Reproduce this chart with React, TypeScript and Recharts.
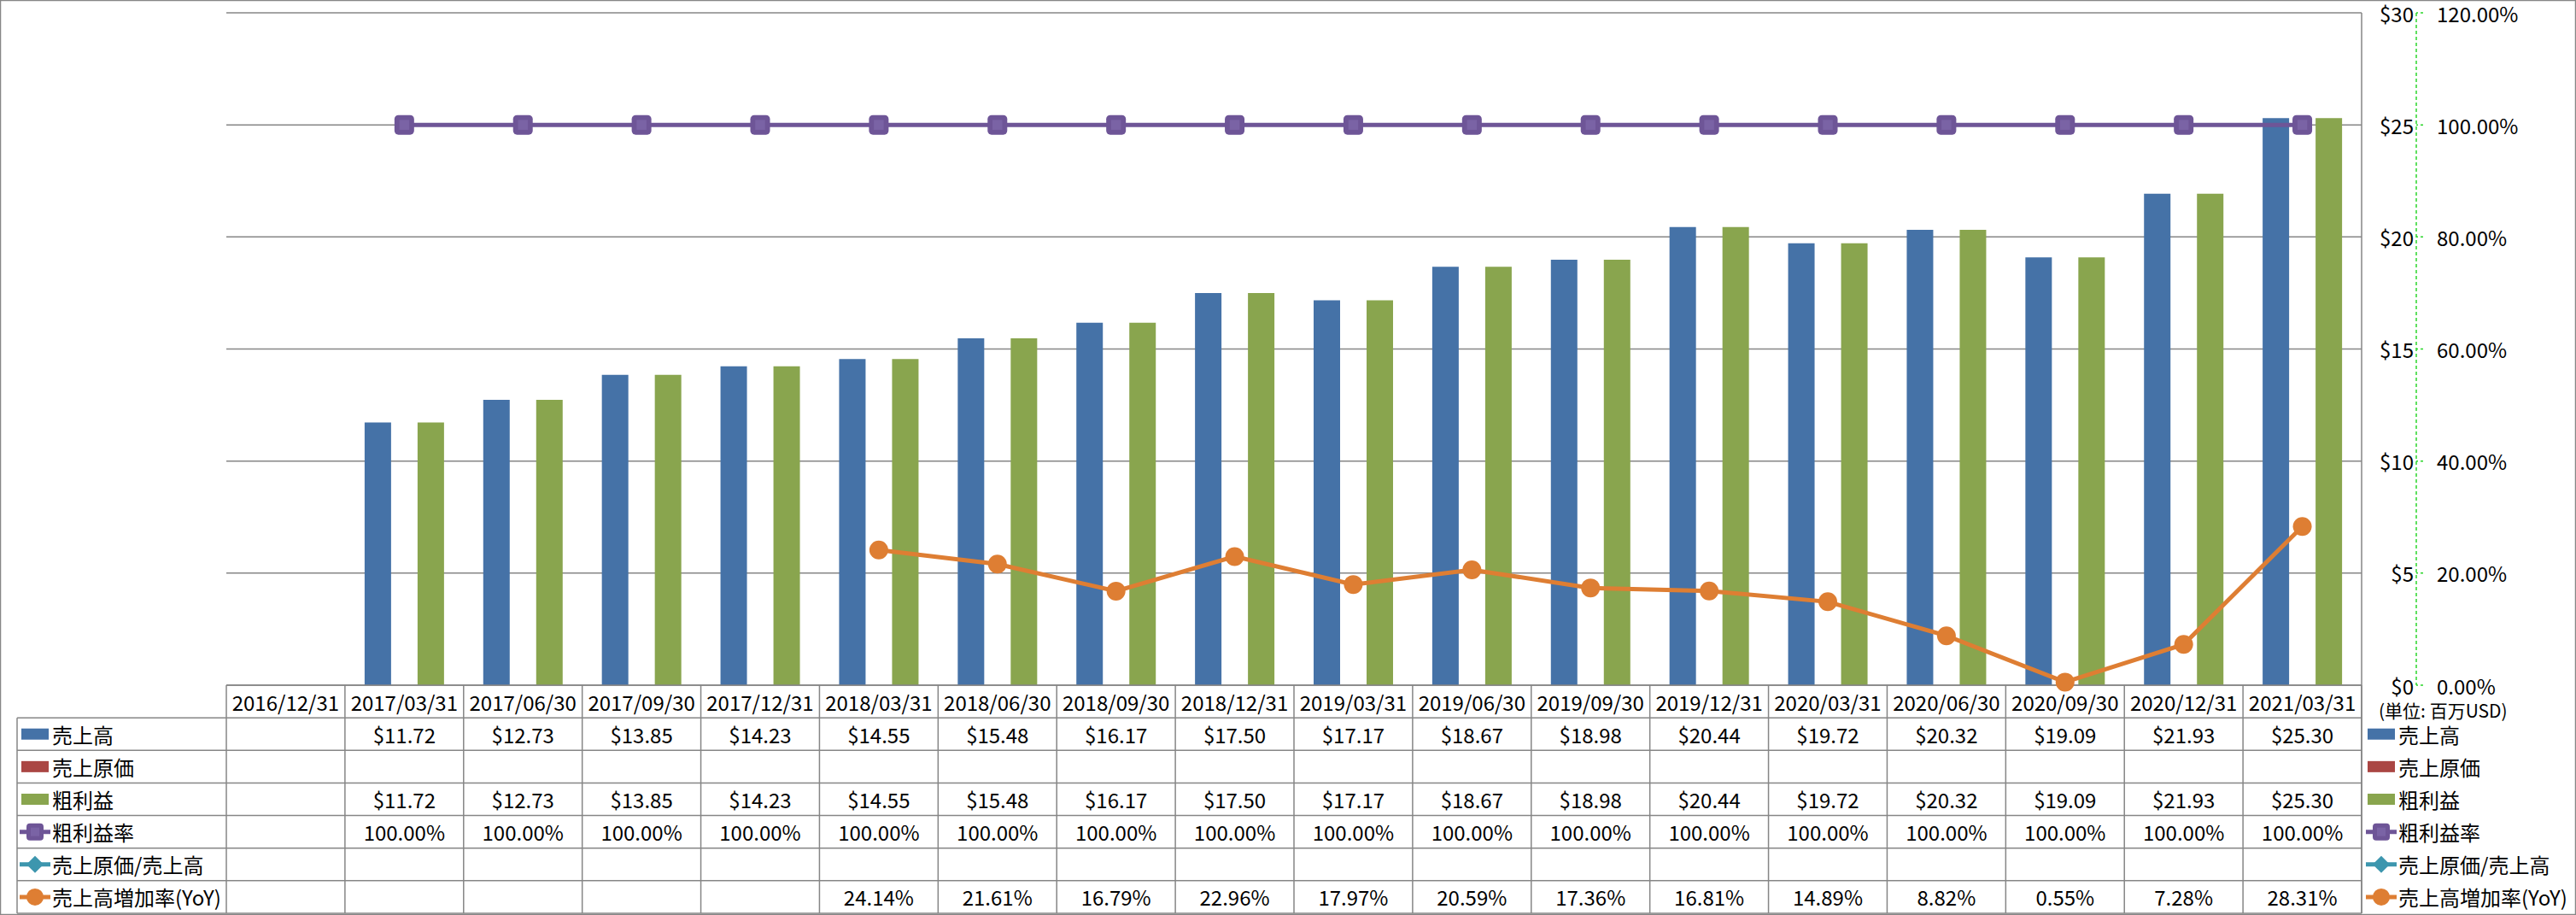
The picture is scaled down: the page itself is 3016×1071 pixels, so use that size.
import React from "react"
import { ComposedChart, Bar, Line, XAxis, YAxis, CartesianGrid } from "recharts"

// quarter end dates (x categories)
const dates = [
  "2016/12/31", "2017/03/31", "2017/06/30", "2017/09/30", "2017/12/31", "2018/03/31",
  "2018/06/30", "2018/09/30", "2018/12/31", "2019/03/31", "2019/06/30", "2019/09/30",
  "2019/12/31", "2020/03/31", "2020/06/30", "2020/09/30", "2020/12/31", "2021/03/31",
]

// 売上高 (百万USD)
const revenue = [null, 11.72, 12.73, 13.85, 14.23, 14.55, 15.48, 16.17, 17.5, 17.17, 18.67, 18.98, 20.44, 19.72, 20.32, 19.09, 21.93, 25.3]
// 売上原価 (no values)
const cost = [null, null, null, null, null, null, null, null, null, null, null, null, null, null, null, null, null, null]
// 粗利益
const grossProfit = [null, 11.72, 12.73, 13.85, 14.23, 14.55, 15.48, 16.17, 17.5, 17.17, 18.67, 18.98, 20.44, 19.72, 20.32, 19.09, 21.93, 25.3]
// 粗利益率 (%)
const grossMargin = [null, 100, 100, 100, 100, 100, 100, 100, 100, 100, 100, 100, 100, 100, 100, 100, 100, 100]
// 売上原価/売上高 (no values)
const costRatio = [null, null, null, null, null, null, null, null, null, null, null, null, null, null, null, null, null, null]
// 売上高増加率 YoY (%)
const yoy = [null, null, null, null, null, 24.14, 21.61, 16.79, 22.96, 17.97, 20.59, 17.36, 16.81, 14.89, 8.82, 0.55, 7.28, 28.31]

const usdTicks = [0, 5, 10, 15, 20, 25, 30]
const pctTicks = [0, 20, 40, 60, 80, 100, 120]
const unitLabel = "(単位: 百万USD)"

const BLUE = "#4572A7"
const RED = "#AA4643"
const GREEN = "#89A54E"
const PURPLE = "#6E5597"
const CYAN = "#3D96AE"
const ORANGE = "#DE7E33"
const GRID = "#868686"
const AXIS_GREEN = "#2BD62B"
const FONT = "'Noto Sans CJK JP', 'Noto Sans', sans-serif"

const W = 3016
const H = 1071
const PLOT_L = 265
const PLOT_R = 2765
const PLOT_T = 15
const PLOT_B = 802
const TABLE_L = 20
const TABLE_B = 1069
const USD_AXIS_W = 64
const ROW_H = (TABLE_B - PLOT_B) / 7
const COL_W = (PLOT_R - PLOT_L) / dates.length

const data = dates.map((d, i) => ({
  date: d,
  revenue: revenue[i],
  cost: cost[i],
  grossProfit: grossProfit[i],
  grossMargin: grossMargin[i],
  costRatio: costRatio[i],
  yoy: yoy[i],
}))

const money = (v: number) => "$" + v.toFixed(2)
const pct = (v: number) => v.toFixed(2) + "%"

const rows = [
  { name: "売上高", kind: "bar", color: BLUE, values: revenue, fmt: money },
  { name: "売上原価", kind: "bar", color: RED, values: cost, fmt: money },
  { name: "粗利益", kind: "bar", color: GREEN, values: grossProfit, fmt: money },
  { name: "粗利益率", kind: "square", color: PURPLE, values: grossMargin, fmt: pct },
  { name: "売上原価/売上高", kind: "diamond", color: CYAN, values: costRatio, fmt: pct },
  { name: "売上高増加率(YoY)", kind: "circle", color: ORANGE, values: yoy, fmt: pct },
]

function Marker({ kind, color, cx, cy, size }: any) {
  const h = size / 2
  if (kind === "square") {
    return (
      <g>
        <rect x={cx - h} y={cy - h} width={size} height={size} rx={size * 0.2} fill={color} />
        <rect x={cx - h * 0.5} y={cy - h * 0.5} width={h} height={h} fill="#7A63A5" />
      </g>
    )
  }
  if (kind === "diamond") {
    return <path d={`M${cx},${cy - h} L${cx + h},${cy} L${cx},${cy + h} L${cx - h},${cy} Z`} fill={color} />
  }
  return <circle cx={cx} cy={cy} r={h} fill={color} />
}

function LegendKey({ row, x, cy }: any) {
  if (row.kind === "bar") {
    return <rect x={x} y={cy - 6.5} width={32} height={13} fill={row.color} />
  }
  return (
    <g>
      <line x1={x - 2} x2={x + 34} y1={cy} y2={cy} stroke={row.color} strokeWidth={5} />
      <Marker kind={row.kind} color={row.color} cx={x + 16} cy={cy} size={20} />
    </g>
  )
}

function TableColumn(props: any) {
  const { x, payload } = props
  const i = dates.indexOf(payload.value)
  const half = COL_W / 2
  return (
    <g>
      <text x={x} y={PLOT_B + ROW_H / 2} textAnchor="middle" dominantBaseline="central" fontSize={24} fill="#000">
        {payload.value}
      </text>
      {rows.map((row, r) => {
        const v = row.values[i]
        if (v == null) return null
        return (
          <text key={r} x={x} y={PLOT_B + ROW_H * (r + 1.5)} textAnchor="middle" dominantBaseline="central" fontSize={24} fill="#000">
            {row.fmt(v)}
          </text>
        )
      })}
      <line x1={x + half} x2={x + half} y1={PLOT_B} y2={TABLE_B} stroke={GRID} strokeWidth={1.5} />
      {i === 0 && <line x1={x - half} x2={x - half} y1={PLOT_B} y2={TABLE_B} stroke={GRID} strokeWidth={1.5} />}
    </g>
  )
}

function UsdTick({ x, y, payload }: any) {
  return (
    <text x={x + USD_AXIS_W - 3} y={y} textAnchor="end" dominantBaseline="central" fontSize={24} fill="#000">
      {"$" + payload.value}
    </text>
  )
}

function PctTick({ x, y, payload }: any) {
  return (
    <text x={x} y={y} textAnchor="start" dominantBaseline="central" fontSize={24} fill="#000">
      {pct(payload.value)}
    </text>
  )
}

const squareDot = (p: any) =>
  p.cy == null ? <g key={p.index} /> : <g key={p.index}><Marker kind="square" color={PURPLE} cx={p.cx} cy={p.cy} size={23} /></g>
const diamondDot = (p: any) =>
  p.cy == null ? <g key={p.index} /> : <g key={p.index}><Marker kind="diamond" color={CYAN} cx={p.cx} cy={p.cy} size={22} /></g>
const circleDot = (p: any) =>
  p.cy == null ? <g key={p.index} /> : <g key={p.index}><Marker kind="circle" color={ORANGE} cx={p.cx} cy={p.cy} size={22} /></g>

export default function App() {
  const rowLines = [1, 2, 3, 4, 5, 6, 7].map((k) => PLOT_B + ROW_H * k)
  return (
    <div style={{ position: "relative", width: W, height: H, fontFamily: FONT, background: "#fff" }}>
      <style>{`body{margin:0}`}</style>
      <ComposedChart
        width={W}
        height={H}
        data={data}
        barGap={0}
        margin={{ top: PLOT_T, right: 0, bottom: H - TABLE_B, left: PLOT_L }}
      >
        <CartesianGrid yAxisId="a" vertical={false} stroke={GRID} strokeWidth={1.5} />
        <XAxis
          dataKey="date"
          height={TABLE_B - PLOT_B}
          interval={0}
          tickSize={0}
          tickMargin={0}
          tickLine={false}
          axisLine={{ stroke: GRID, strokeWidth: 1.5 }}
          tick={<TableColumn />}
        />
        <YAxis
          yAxisId="b"
          orientation="right"
          width={W - PLOT_R - USD_AXIS_W}
          domain={[0, 120]}
          ticks={pctTicks}
          tickSize={8}
          tickMargin={16}
          axisLine={{ stroke: AXIS_GREEN, strokeDasharray: "4 3", strokeWidth: 1.5 }}
          tickLine={{ stroke: AXIS_GREEN, strokeDasharray: "3 3", strokeWidth: 1.5 }}
          tick={<PctTick />}
        />
        <YAxis
          yAxisId="a"
          orientation="right"
          width={USD_AXIS_W}
          domain={[0, 30]}
          ticks={usdTicks}
          tickSize={0}
          tickMargin={0}
          axisLine={false}
          tickLine={false}
          tick={<UsdTick />}
        />
        <Bar yAxisId="a" dataKey="revenue" fill={BLUE} barSize={31} isAnimationActive={false} />
        <Bar yAxisId="a" dataKey="cost" fill={RED} barSize={31} isAnimationActive={false} />
        <Bar yAxisId="a" dataKey="grossProfit" fill={GREEN} barSize={31} isAnimationActive={false} />
        <Line yAxisId="b" dataKey="grossMargin" stroke={PURPLE} strokeWidth={5} dot={squareDot} activeDot={false} isAnimationActive={false} />
        <Line yAxisId="b" dataKey="costRatio" stroke={CYAN} strokeWidth={5} dot={diamondDot} activeDot={false} isAnimationActive={false} />
        <Line yAxisId="b" dataKey="yoy" stroke={ORANGE} strokeWidth={5} dot={circleDot} activeDot={false} isAnimationActive={false} />
      </ComposedChart>
      <svg width={W} height={H} style={{ position: "absolute", left: 0, top: 0, pointerEvents: "none" }}>
        <rect x={0.5} y={0.5} width={W - 1} height={H - 1} fill="none" stroke={GRID} strokeWidth={1.5} />
        <line x1={PLOT_R} x2={PLOT_R} y1={PLOT_T} y2={TABLE_B} stroke={GRID} strokeWidth={1.5} />
        <line x1={TABLE_L} x2={TABLE_L} y1={rowLines[0]} y2={TABLE_B} stroke={GRID} strokeWidth={1.5} />
        {rowLines.map((y, k) => (
          <line key={k} x1={TABLE_L} x2={PLOT_R} y1={y} y2={y} stroke={GRID} strokeWidth={1.5} />
        ))}
        {rows.map((row, r) => {
          const cy = PLOT_B + ROW_H * (r + 1.5)
          return (
            <g key={r}>
              <LegendKey row={row} x={25} cy={cy} />
              <text x={61} y={cy} dominantBaseline="central" fontSize={24} fill="#000" fontFamily={FONT}>{row.name}</text>
              <LegendKey row={row} x={2772} cy={cy} />
              <text x={2808} y={cy} dominantBaseline="central" fontSize={24} fill="#000" fontFamily={FONT}>{row.name}</text>
            </g>
          )
        })}
        <text x={2785} y={831} dominantBaseline="central" fontSize={21} fill="#000" fontFamily={FONT}>{unitLabel}</text>
      </svg>
    </div>
  )
}
